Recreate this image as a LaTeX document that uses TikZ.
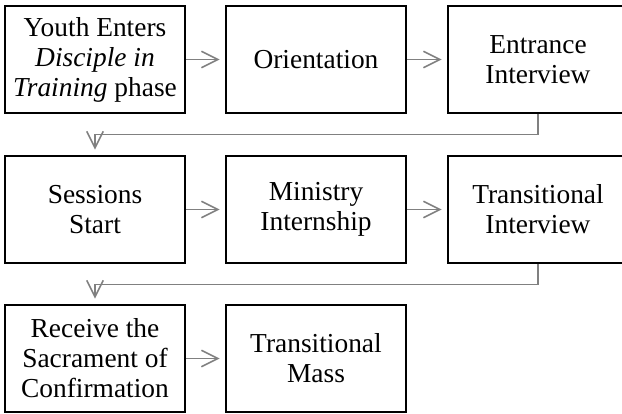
\documentclass[tikz,border=0pt]{standalone}
\usepackage{fontspec}
\setmainfont{Liberation Serif}
\usetikzlibrary{arrows.meta}

\begin{document}
\begin{tikzpicture}
		\tikzstyle{Step} 	= [rectangle, draw, line width=1.8pt, minimum width=6cm, minimum height=3.57cm, inner sep=0pt, align=center, font=\fontsize{26}{28.5}\selectfont]
		\tikzstyle{Flow}	= [gray, line width=1.5pt, -{Straight Barb[length=5.5mm, width=5.5mm]}, shorten >=0.18cm]

		\useasboundingbox (0,0) rectangle (20.733,-13.767);

		\node (s1) at (3.167, -1.983) [Step] {Youth Enters\\\emph{Disciple in}\\\emph{Training} phase};
		\node (s2) at (10.533, -1.983) [Step] {Orientation};
		\node (s3) at (17.933, -1.983) [Step] {Entrance\\Interview};
		\node (s4) at (3.167, -6.983) [Step] {Sessions\\Start};
		\node (s5) at (10.533, -6.983) [Step] {Ministry\\Internship};
		\node (s6) at (17.933, -6.983) [Step] {Transitional\\Interview};
		\node (s7) at (3.167, -11.95) [Step] {Receive the\\Sacrament of\\Confirmation};
		\node (s8) at (10.533, -11.95) [Step] {Transitional\\Mass};

		\draw [Flow] (s1) to (s2);
		\draw [Flow] (s2) to (s3);
		\draw [Flow] (s3.south) -- ++(0,-0.68) -| (s4.north);
		\draw [Flow] (s4) to (s5);
		\draw [Flow] (s5) to (s6);
		\draw [Flow] (s6.south) -- ++(0,-0.68) -| (s7.north);
		\draw [Flow] (s7) to (s8);
	\end{tikzpicture}
\end{document}
